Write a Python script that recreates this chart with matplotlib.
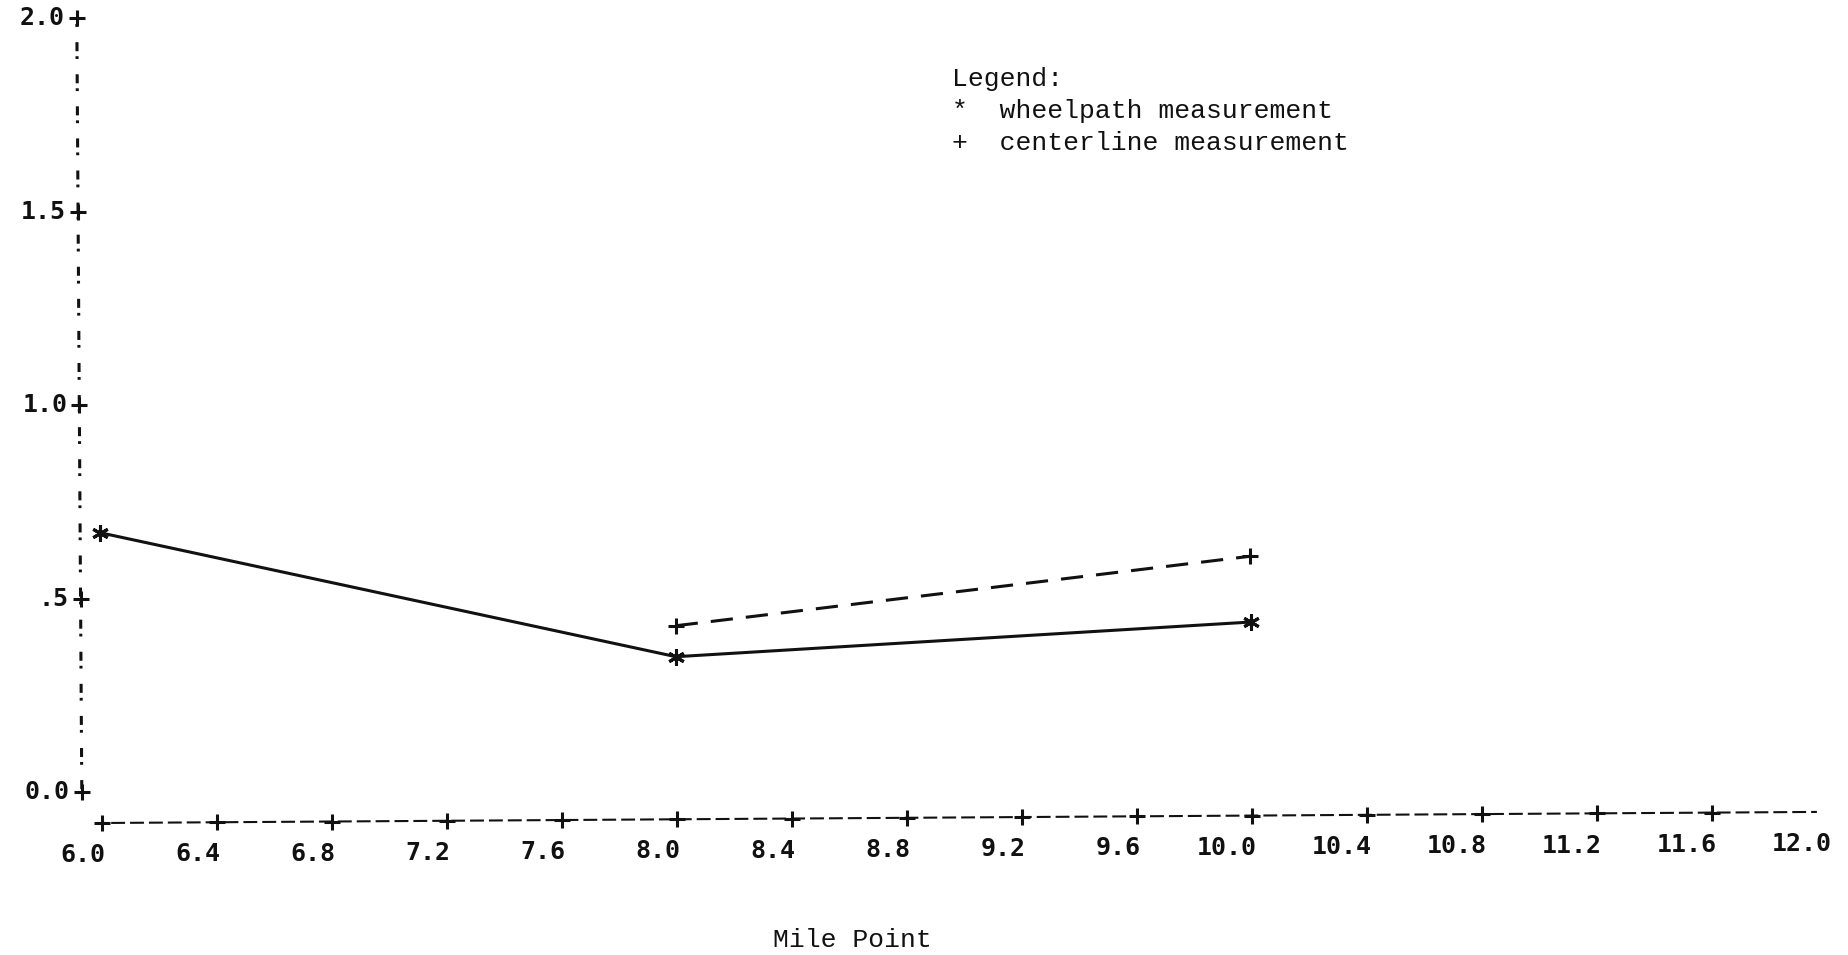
import matplotlib

matplotlib.use("Agg")
import matplotlib.pyplot as plt
from matplotlib.transforms import Affine2D

plt.rcParams["lines.scale_dashes"] = False

# rut depth readings along the section
MILE_POINT = [6.0, 8.0, 10.0]
WHEELPATH = [0.67, 0.34, 0.42]
CENTERLINE_MILE = [8.0, 10.0]
CENTERLINE = [0.42, 0.59]

X_TICKS = [6.0, 6.4, 6.8, 7.2, 7.6, 8.0, 8.4, 8.8, 9.2, 9.6, 10.0, 10.4, 10.8, 11.2, 11.6, 12.0]
X_LABELS = ["6.0", "6.4", "6.8", "7.2", "7.6", "8.0", "8.4", "8.8", "9.2", "9.6",
            "10.0", "10.4", "10.8", "11.2", "11.6", "12.0"]
X_AXIS_END = 11.965
Y_TICKS = [0.0, 0.5, 1.0, 1.5, 2.0]
Y_LABELS = ["0.0", ".5", "1.0", "1.5", "2.0"]

LEGEND_LINES = ["Legend:", "*  wheelpath measurement", "+  centerline measurement"]
X_TITLE = "Mile Point"

W, H = 1848, 955
INK = "#111111"
TICK_FONT = dict(fontfamily="DejaVu Sans Mono", fontsize=18, fontweight="bold", color=INK)
TYPE_FONT = dict(fontfamily="Liberation Mono", fontsize=19, color=INK)


def main() -> None:
    fig = plt.figure(figsize=(W / 100, H / 100), dpi=100)
    fig.patch.set_facecolor("white")

    # plot frame in pixels: y axis at x=82, x axis row at y=823, top edge at 2.0
    ax = fig.add_axes([82 / W, 1 - 823 / H, (1830 - 82) / W, (823 - 18) / H])
    ax.set_xlim(5.9304, 12.0104)
    ax.set_ylim(-0.0801, 2.0)
    ax.set_axis_off()

    # the printed sheet sits slightly askew on the page
    tilt = Affine2D().rotate_deg_around(102, H - 823, 0.37)
    xrow = ax.get_xaxis_transform() + tilt
    ycol = ax.get_yaxis_transform() + tilt

    def shift(dx, dy):
        return Affine2D().translate(dx, dy)

    # axes drawn the way a line printer would: "!" column and "-" row with "+" ticks
    ax.plot([0, 0], [Y_TICKS[-1], Y_TICKS[0]], transform=ycol, color=INK, lw=2.2,
            ls=(5.8, (6.5, 3.6, 2.0, 11.0)), clip_on=False)
    ax.plot([X_TICKS[0], X_AXIS_END], [0, 0], transform=xrow, color=INK, lw=1.5,
            ls=(7.0, (10.0, 3.6)), clip_on=False)
    ax.plot(X_TICKS[:-1], [0] * (len(X_TICKS) - 1), transform=xrow,
            ls="none", marker="+", ms=11, mew=2.2, color=INK, clip_on=False)
    ax.plot([0] * len(Y_TICKS), Y_TICKS, transform=ycol,
            ls="none", marker="+", ms=11, mew=2.2, color=INK, clip_on=False)

    for x, lab in zip(X_TICKS, X_LABELS):
        dx = -(19 + 6 * (len(lab) - 3))
        ax.text(x, 0, lab, transform=ax.get_xaxis_transform() + shift(dx, -32) + tilt,
                ha="center", va="center", **TICK_FONT)
    for y, lab in zip(Y_TICKS, Y_LABELS):
        ax.text(0, y, lab, transform=ax.get_yaxis_transform() + shift(-12, 0) + tilt,
                ha="right", va="center", **TICK_FONT)

    ax.plot(MILE_POINT, WHEELPATH, transform=ax.transData + tilt, color=INK, lw=2.2,
            marker=(6, 2, 0), ms=12, mew=2.2, clip_on=False)
    ax.plot(CENTERLINE_MILE, CENTERLINE, transform=ax.transData + tilt, color=INK, lw=2.2,
            ls=(0, (16, 9.4)), marker="+", ms=11, mew=2.2, clip_on=False)

    for i, line in enumerate(LEGEND_LINES):
        fig.text(952 / W, 1 - (79 + 32 * i) / H, line, ha="left", va="center", **TYPE_FONT)
    fig.text(852 / W, 1 - 940 / H, X_TITLE, ha="center", va="center", **TYPE_FONT)

    fig.savefig("out.png", dpi=100)


if __name__ == "__main__":
    main()
